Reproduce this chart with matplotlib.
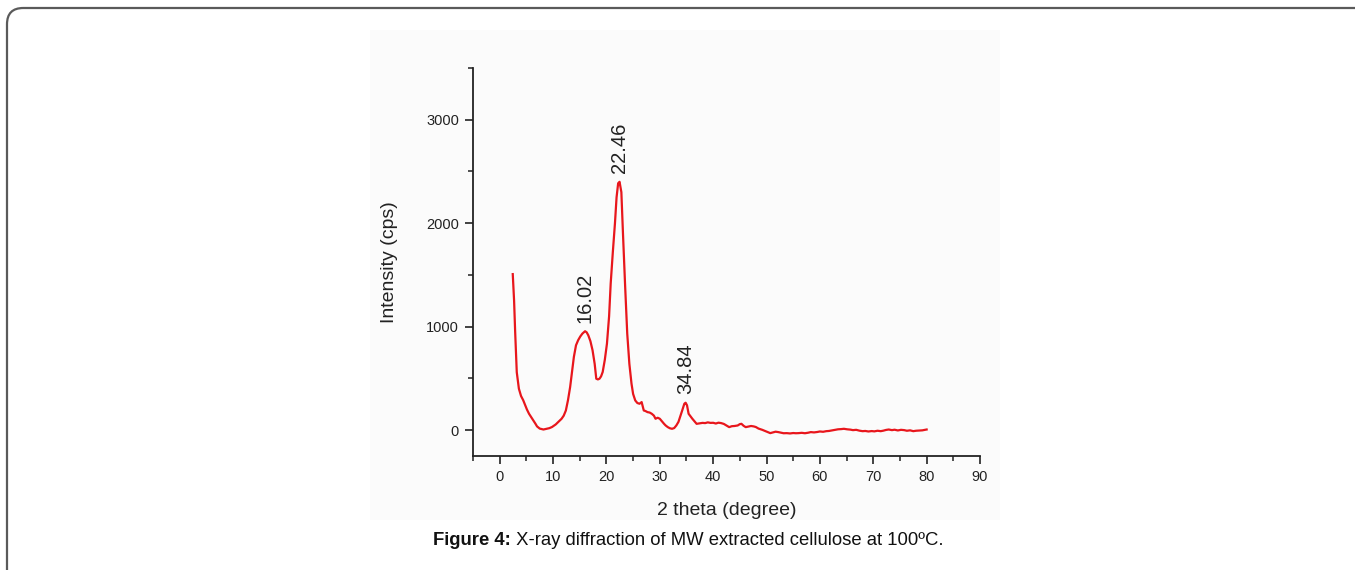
import matplotlib
matplotlib.use("Agg")
import matplotlib.pyplot as plt
from matplotlib.patches import FancyBboxPatch, Rectangle
from matplotlib.ticker import MultipleLocator

# ---- data ----
two_theta = [2.45, 2.7, 2.9, 3.2, 3.6, 4.0, 4.4, 4.75, 5.1, 5.5, 5.9, 6.3, 6.7, 7.0, 7.5, 8.2, 8.7, 9.3, 9.8, 10.5,
             11.0, 11.6, 12.0, 12.4, 12.8, 13.2, 13.6, 13.9, 14.3, 14.7, 15.1, 15.5, 16.0, 16.3, 16.6, 17.0,
             17.4, 17.8, 18.1, 18.4, 18.7, 19.0, 19.3, 19.7, 20.1, 20.5, 20.8, 21.2, 21.6, 21.9, 22.2, 22.46,
             22.8, 23.1, 23.5, 23.9, 24.3, 24.7, 25.0, 25.4, 25.8, 26.2, 26.6, 27.0, 27.3, 27.7, 28.1, 28.5,
             28.9, 29.2, 29.6, 30.0, 30.4, 30.8, 31.1, 31.5, 31.9, 32.3, 32.7, 33.1, 33.5, 33.8, 34.2, 34.6,
             34.84, 35.1, 35.4, 35.8, 36.1, 36.5, 36.9, 37.5, 38.0, 38.5, 39.0, 39.5, 40.0, 40.5, 41.0, 41.5,
             42.0, 42.5, 43.0, 43.5, 44.0, 44.6, 45.0, 45.3, 45.7, 46.1, 46.6, 47.1, 47.6, 48.0, 48.5, 49.2,
             49.8, 50.3, 50.7, 51.2, 51.7, 52.2, 52.7, 53.2, 53.8, 54.4, 55.0, 55.5, 56.0, 56.6, 57.2, 57.8,
             58.3, 58.9, 59.5, 60.0, 60.6, 61.2, 61.7, 62.2, 62.8, 63.4, 64.0, 64.5, 65.1, 65.7, 66.2, 66.8,
             67.4, 68.0, 68.5, 69.1, 69.7, 70.2, 70.8, 71.4, 71.9, 72.4, 72.9, 73.5, 74.0, 74.6, 75.2, 75.8,
             76.3, 76.9, 77.5, 78.0, 78.6, 79.2, 79.6, 80.0]
intensity = [1508, 1250, 950, 560, 400, 330, 290, 245, 200, 158, 125, 94, 62, 36, 15, 6, 12, 19, 30, 55,
             80, 110, 140, 190, 290, 416, 580, 707, 820, 869, 905, 933, 956, 945, 917, 860,
             772, 640, 497, 490, 497, 520, 562, 680, 836, 1100, 1417, 1720, 2000, 2250, 2386, 2400,
             2300, 1902, 1400, 933, 640, 449, 350, 287, 262, 255, 271, 190, 185, 174, 170, 158,
             140, 110, 120, 110, 85, 61, 45, 29, 18, 13, 20, 45, 80, 126, 190, 255,
             265, 240, 158, 130, 110, 85, 61, 66, 70, 68, 75, 70, 71, 64, 72, 68,
             60, 45, 29, 38, 40, 45, 58, 61, 42, 29, 35, 40, 36, 30, 15, 3,
             -10, -20, -29, -22, -15, -19, -25, -30, -29, -32, -28, -30, -29, -26, -30, -25,
             -19, -22, -18, -13, -16, -10, -8, -3, 2, 8, 10, 13, 8, 5, 0, 3,
             -5, -10, -8, -13, -9, -12, -6, -10, -5, 2, 6, 0, 4, -3, 3, 0,
             -6, -2, -10, -6, -4, -2, 2, 6]

peak_labels = ["16.02", "22.46", "34.84"]
peak_x = [16.02, 22.46, 34.84]
peak_y = [956, 2400, 265]

x_label = "2 theta (degree)"
y_label = "Intensity (cps)"
caption_bold = "Figure 4:"
caption_rest = " X-ray diffraction of MW extracted cellulose at 100ºC."

plt.rcParams['font.family'] = ['Liberation Sans', 'DejaVu Sans']

W, H = 1355, 570
fig = plt.figure(figsize=(W / 100, H / 100), dpi=100)
fig.patch.set_facecolor("white")

# outer rounded frame (extends beyond right/bottom edges)
frame = FancyBboxPatch((7 / W, 1 - 60 / H - 1.2), (1400 - 7) / W, 1.2 + (60 - 8) / H,
                       boxstyle="round,pad=0,rounding_size=0.012",
                       transform=fig.transFigure, facecolor="none",
                       edgecolor="#5a5a5a", linewidth=1.6, mutation_aspect=W / H, zorder=1)
fig.patches.append(frame)

# faint background of the embedded plot image
fig.patches.append(Rectangle((370 / W, 1 - 520 / H), 630 / W, 490 / H,
                             transform=fig.transFigure, facecolor="#fbfbfb",
                             edgecolor="none", zorder=0))

ax = fig.add_axes([473 / W, 1 - 456 / H, (980 - 473) / W, (456 - 68) / H])
ax.set_zorder(3)
ax.set_facecolor("none")
ax.plot(two_theta, intensity, color="#e8161c", linewidth=1.6)

ax.set_xlim(-5, 90)
ax.set_ylim(-250, 3500)
ax.xaxis.set_major_locator(MultipleLocator(10))
ax.xaxis.set_minor_locator(MultipleLocator(5))
ax.set_yticks([0, 1000, 2000, 3000])
ax.yaxis.set_minor_locator(MultipleLocator(500))
ax.spines['top'].set_visible(False)
ax.spines['right'].set_visible(False)
for s in ('left', 'bottom'):
    ax.spines[s].set_linewidth(1.3)
    ax.spines[s].set_color("#222222")
ax.tick_params(which='major', direction='out', length=6, width=1.2, labelsize=10.5,
               colors="#222222", pad=4)
ax.tick_params(which='minor', direction='out', length=3.5, width=1.1, colors="#222222")

ax.set_xlabel(x_label, fontsize=14, color="#222222", labelpad=13)
ax.set_ylabel(y_label, fontsize=14, color="#222222", labelpad=20)

for lab, px, py in zip(peak_labels, peak_x, peak_y):
    ax.annotate(lab, xy=(px, py), xytext=(0, 6), textcoords="offset points",
                rotation=90, ha="center", va="bottom", fontsize=14.5, color="#222222")

# caption
fig.canvas.draw()
r = fig.canvas.get_renderer()
cap_size = 13.3
t1 = fig.text(0, 1 - 545 / H, caption_bold, fontsize=cap_size, fontweight="bold", color="#111111",
              va="baseline", ha="left", zorder=5)
t2 = fig.text(0, 1 - 545 / H, caption_rest, fontsize=cap_size, color="#111111", va="baseline",
              ha="left", zorder=5)
w1 = t1.get_window_extent(r).width
w2 = t2.get_window_extent(r).width
x0 = 688 - (w1 + w2) / 2
t1.set_x(x0 / W)
t2.set_x((x0 + w1) / W)

fig.savefig("out.png", dpi=100, facecolor="white")
